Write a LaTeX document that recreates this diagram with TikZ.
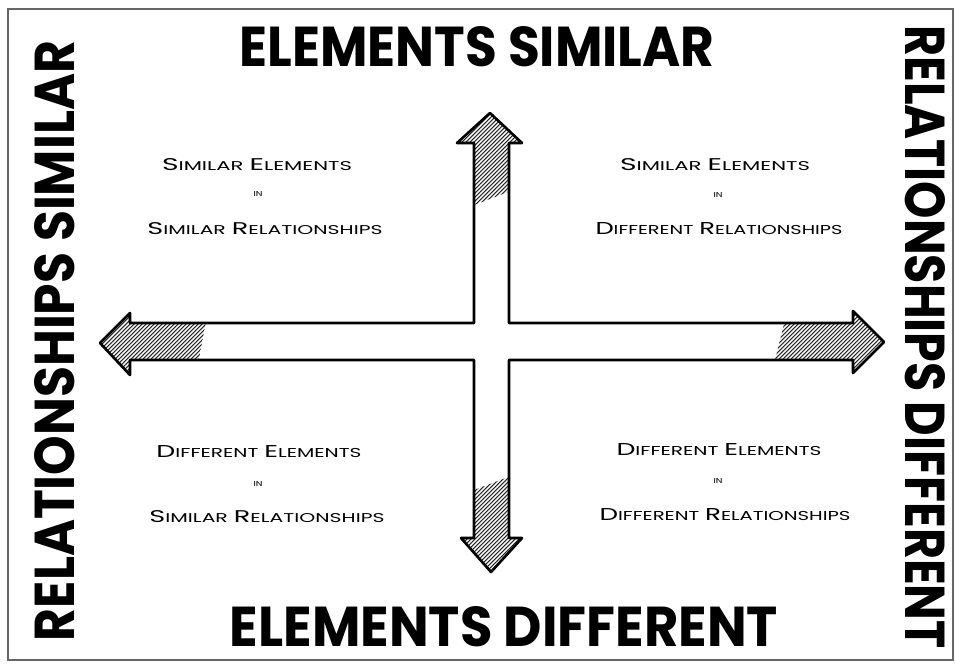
\documentclass[tikz,border=0pt]{standalone}
\usepackage{fontspec}
\usepackage{graphicx}
\newfontfamily\heavy{Poppins}
\newfontfamily\hand{Poppins}
\newdimen\pxu \pxu=0.02cm
\newcommand\fitbox[3]{\resizebox{#1\pxu}{#2\pxu}{#3}}
\newcommand\sC[2]{{\fontsize{12}{12}\selectfont #1}{\fontsize{9}{9}\selectfont #2}}
\tikzset{
  frame/.style={draw=black!60, line width=0.6pt},
  crossline/.style={draw=black, line width=1.5pt, line join=round},
  hatchline/.style={draw=black!85, line width=0.6pt},
  title/.style={inner sep=0pt, font=\heavy\bfseries},
  qtext/.style={inner sep=0pt, font=\hand},
}
\begin{document}
\begin{tikzpicture}[x=0.02cm,y=-0.02cm]
\useasboundingbox (0,0) rectangle (955,663);
\path[frame] (8,9) rectangle (953,660);
% cross
\def\crosspath{(490,113) -- (522,143) -- (509,143) -- (509,323) -- (853,323) -- (853,311) -- (884,342) -- (853,373) -- (853,360) -- (509,360) -- (509,538) -- (522,538) -- (491,572) -- (461,538) -- (474,538) -- (474,360) -- (130,360) -- (130,375) -- (100,343) -- (130,313) -- (130,323) -- (474,323) -- (474,143) -- (457,143) -- cycle}
\begin{scope}
\clip \crosspath;
\begin{scope}
\clip (440,100) -- (540,100) -- (540,180) -- (474,205) -- (440,205) -- cycle;
\foreach \i in {300,304,...,560} \draw[hatchline] (\i,220) -- ++(130,-130);
\end{scope}
\begin{scope}
\clip (440,585) -- (540,585) -- (540,465) -- (474,490) -- (440,490) -- cycle;
\foreach \i in {320,324,...,580} \draw[hatchline] (\i,590) -- ++(130,-130);
\end{scope}
\begin{scope}
\clip (90,300) -- (210,300) -- (195,380) -- (90,380) -- cycle;
\foreach \i in {-20,-16,...,220} \draw[hatchline] (\i,390) -- ++(100,-100);
\end{scope}
\begin{scope}
\clip (895,300) -- (790,300) -- (770,380) -- (895,380) -- cycle;
\foreach \i in {660,664,...,900} \draw[hatchline] (\i,390) -- ++(100,-100);
\end{scope}
\end{scope}
\path[crossline] \crosspath;
% titles
\node[title] (tt) at (477,47) {\fitbox{475}{40}{ELEMENTS SIMILAR}};
\node[title] (bt) at (504,627) {\fitbox{548}{40}{ELEMENTS DIFFERENT}};
\node[title, rotate=90] (lt) at (55,341) {\fitbox{600}{40}{RELATIONSHIPS SIMILAR}};
\node[title, rotate=-90] (rt) at (925,337) {\fitbox{623}{40}{RELATIONSHIPS DIFFERENT}};
% quadrant texts
\node[qtext] (a1) at (257,165) {\fitbox{190}{12}{\sC{S}{IMILAR} \sC{E}{LEMENTS}}};
\node[qtext] (a2) at (258,194) {\fitbox{9}{5}{\sC{}{IN}}};
\node[qtext] (a3) at (265,229) {\fitbox{235}{12}{\sC{S}{IMILAR} \sC{R}{ELATIONSHIPS}}};
\node[qtext] (b1) at (715,165) {\fitbox{190}{12}{\sC{S}{IMILAR} \sC{E}{LEMENTS}}};
\node[qtext] (b2) at (718,195) {\fitbox{9}{5}{\sC{}{IN}}};
\node[qtext] (b3) at (719,229) {\fitbox{247}{12}{\sC{D}{IFFERENT} \sC{R}{ELATIONSHIPS}}};
\node[qtext] (c1) at (259,452) {\fitbox{205}{12}{\sC{D}{IFFERENT} \sC{E}{LEMENTS}}};
\node[qtext] (c2) at (258,484) {\fitbox{9}{5}{\sC{}{IN}}};
\node[qtext] (c3) at (267,517) {\fitbox{235}{12}{\sC{S}{IMILAR} \sC{R}{ELATIONSHIPS}}};
\node[qtext] (d1) at (719,450) {\fitbox{205}{12}{\sC{D}{IFFERENT} \sC{E}{LEMENTS}}};
\node[qtext] (d2) at (718,481) {\fitbox{9}{5}{\sC{}{IN}}};
\node[qtext] (d3) at (725,515) {\fitbox{251}{12}{\sC{D}{IFFERENT} \sC{R}{ELATIONSHIPS}}};
\end{tikzpicture}
\end{document}
